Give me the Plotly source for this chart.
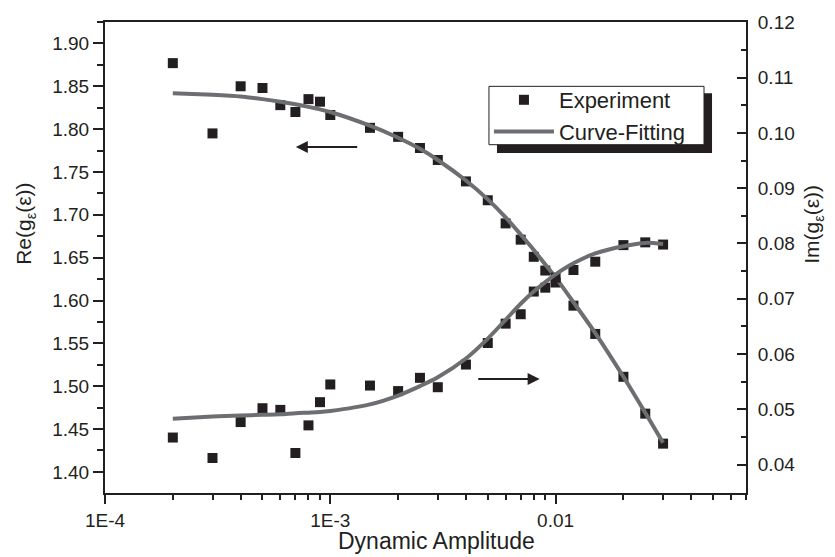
import math
import plotly.graph_objects as go

# ---- data ----
amp = [2e-4, 3e-4, 4e-4, 5e-4, 6e-4, 7e-4, 8e-4, 9e-4, 1e-3, 1.5e-3, 2e-3, 2.5e-3,
       3e-3, 4e-3, 5e-3, 6e-3, 7e-3, 8e-3, 9e-3, 0.01, 0.012, 0.015, 0.02, 0.025, 0.03]

re_exp = [1.877, 1.795, 1.850, 1.848, 1.828, 1.820, 1.835, 1.832, 1.8165, 1.8015, 1.791, 1.778,
          1.764, 1.739, 1.717, 1.690, 1.671, 1.651, 1.635, 1.621, 1.594, 1.561, 1.511, 1.468, 1.433]

im_exp = [0.0449, 0.0412, 0.0477, 0.0502, 0.0499, 0.0421, 0.0471, 0.0513, 0.0545, 0.0543, 0.0533, 0.0557,
          0.0540, 0.0581, 0.0620, 0.0655, 0.0672, 0.0713, 0.0720, 0.0738, 0.0752, 0.0767, 0.0797, 0.0802, 0.0798]

re_fit = [1.842, 1.840, 1.838, 1.835, 1.832, 1.829, 1.826, 1.823, 1.820, 1.804, 1.790, 1.777,
          1.764, 1.740, 1.718, 1.697, 1.677, 1.659, 1.642, 1.627, 1.598, 1.562, 1.511, 1.469, 1.434]

im_fit = [0.0483, 0.0487, 0.0489, 0.0490, 0.0491, 0.0493, 0.0494, 0.0495, 0.0497, 0.0509, 0.0525, 0.0542,
          0.0558, 0.0592, 0.0628, 0.0662, 0.0691, 0.0713, 0.0730, 0.0744, 0.0764, 0.0782, 0.0795, 0.0801, 0.0799]

x_tickvals = [1e-4, 1e-3, 1e-2]
x_ticktext = ["1E-4", "1E-3", "0.01"]
x_minor = [m * d for d in (1e-4, 1e-3, 1e-2) for m in range(2, 10) if m * d <= 0.07]

INK = "#231f20"
GREY = "#6d6e71"
FONT = "Liberation Sans, Arial, Helvetica, sans-serif"

fig = go.Figure()

fig.add_trace(go.Scatter(x=amp, y=re_exp, mode="markers", name="Experiment",
                         marker=dict(symbol="square", size=10, color=INK),
                         yaxis="y", legendrank=1))
fig.add_trace(go.Scatter(x=amp, y=re_fit, mode="lines", name="Curve-Fitting",
                         line=dict(color=GREY, width=4, shape="spline", smoothing=0.8),
                         yaxis="y", legendrank=2))
fig.add_trace(go.Scatter(x=amp, y=im_exp, mode="markers", name="Experiment",
                         marker=dict(symbol="square", size=10, color=INK),
                         yaxis="y2", showlegend=False))
fig.add_trace(go.Scatter(x=amp, y=im_fit, mode="lines", name="Curve-Fitting",
                         line=dict(color=GREY, width=4, shape="spline", smoothing=0.8),
                         yaxis="y2", showlegend=False))

fig.update_layout(
    width=835, height=557,
    margin=dict(l=105, r=89, t=17, b=64),
    paper_bgcolor="white", plot_bgcolor="white",
    font=dict(family=FONT, color=INK, size=19),
    xaxis=dict(
        type="log", range=[-4, math.log10(0.07)],
        showline=True, linecolor=INK, linewidth=2, mirror=True,
        showgrid=False, zeroline=False,
        ticks="outside", ticklen=9, tickwidth=2, tickcolor=INK,
        tickmode="array", tickvals=x_tickvals, ticktext=x_ticktext,
        tickfont=dict(size=19, color=INK),
        minor=dict(ticks="outside", ticklen=5, tickwidth=2, tickcolor=INK,
                   tickmode="array", tickvals=x_minor, showgrid=False),
    ),
    yaxis=dict(
        range=[1.3754, 1.925],
        showline=True, linecolor=INK, linewidth=2, mirror=False,
        showgrid=False, zeroline=False,
        ticks="outside", ticklen=10, tickwidth=2, tickcolor=INK,
        tick0=1.40, dtick=0.05, tickformat=".2f",
        tickfont=dict(size=19, color=INK),
        minor=dict(ticks="outside", ticklen=6, tickwidth=2, tickcolor=INK, dtick=0.025, showgrid=False),
    ),
    yaxis2=dict(
        overlaying="y", side="right",
        range=[0.03487, 0.12005],
        showline=True, linecolor=INK, linewidth=2,
        showgrid=False, zeroline=False,
        ticks="inside", ticklen=9, tickwidth=2, tickcolor=INK,
        tick0=0.04, dtick=0.01, tickformat=".2f",
        tickfont=dict(size=19, color=INK), ticklabelstandoff=6,
        minor=dict(ticks="inside", ticklen=5, tickwidth=2, tickcolor=INK, dtick=0.005, showgrid=False),
    ),
    legend=dict(
        x=0.599, y=0.879, xanchor="left", yanchor="top",
        bgcolor="rgba(0,0,0,0)", borderwidth=0,
        font=dict(size=22, color=INK), itemwidth=60,
        tracegroupgap=0,
    ),
    showlegend=True,
)

# axis titles (placed like the reference)
fig.add_annotation(text="Dynamic Amplitude", xref="paper", yref="paper",
                   x=0.5164, y=-0.1023, showarrow=False,
                   font=dict(size=23, color=INK), xanchor="center", yanchor="middle")
fig.add_annotation(text="Re(g<sub>ε</sub>(ε))", xref="paper", yref="paper",
                   x=-0.1248, y=0.5714, textangle=-90, showarrow=False,
                   font=dict(size=21, color=INK), xanchor="center", yanchor="middle")
fig.add_annotation(text="Im(g<sub>ε</sub>(ε))", xref="paper", yref="paper",
                   x=1.1045, y=0.5714, textangle=-90, showarrow=False,
                   font=dict(size=21, color=INK), xanchor="center", yanchor="middle")

# legend frame with drop shadow
fig.add_shape(type="rect", xref="paper", yref="paper",
              x0=0.6115, x1=0.947, y0=0.7221, y1=0.8487,
              fillcolor=INK, line=dict(width=0), layer="above")
fig.add_shape(type="rect", xref="paper", yref="paper",
              x0=0.599, x1=0.9345, y0=0.7395, y1=0.8634,
              fillcolor="white", line=dict(color=INK, width=1), layer="above")

# direction arrows
fig.add_annotation(x=-3.153, y=1.779, ax=-2.874, ay=1.779, xref="x", yref="y", axref="x", ayref="y",
                   showarrow=True, arrowhead=2, arrowsize=1.2, arrowwidth=2, arrowcolor=INK, text="")
fig.add_annotation(x=-2.071, y=1.5085, ax=-2.350, ay=1.5085, xref="x", yref="y", axref="x", ayref="y",
                   showarrow=True, arrowhead=2, arrowsize=1.2, arrowwidth=2, arrowcolor=INK, text="")

fig.write_html("out.html")
